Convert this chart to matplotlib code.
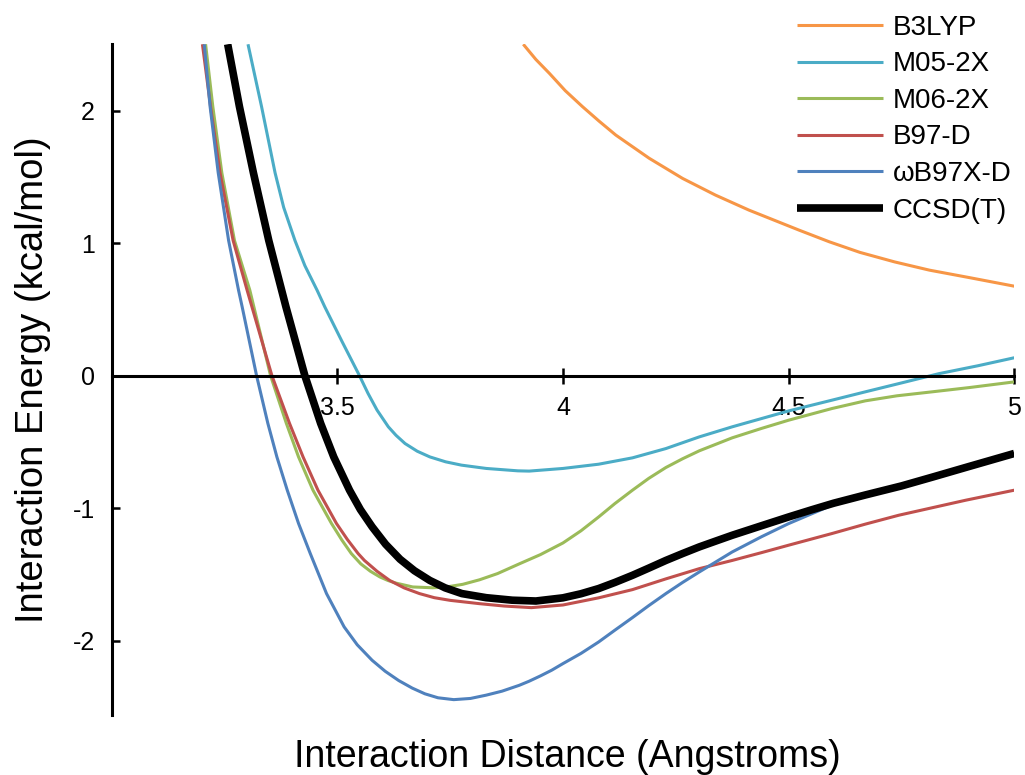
import matplotlib
matplotlib.use('Agg')
import matplotlib.pyplot as plt

plt.rcParams['font.family'] = ['Liberation Sans', 'DejaVu Sans']
plt.rcParams['axes.unicode_minus'] = False

# interaction energy curves (kcal/mol) vs distance (Angstroms)
x_b3lyp = [3.912, 3.94, 3.970, 4.005, 4.043, 4.08, 4.117, 4.191, 4.265, 4.338, 4.412,
           4.523, 4.59, 4.658, 4.735, 4.812, 4.9, 5.0]
y_b3lyp = [2.5, 2.385, 2.28, 2.15, 2.03, 1.92, 1.815, 1.64, 1.488, 1.362, 1.249,
           1.098, 1.01, 0.93, 0.858, 0.796, 0.74, 0.675]

x_m052x = [3.302, 3.332, 3.362, 3.381, 3.406, 3.428, 3.455, 3.472, 3.51, 3.549, 3.568,
           3.588, 3.613, 3.63, 3.650, 3.677, 3.705, 3.74, 3.775, 3.830, 3.900, 3.925,
           4.0, 4.079, 4.154, 4.228, 4.302, 4.375, 4.5, 4.596, 4.670, 4.75, 4.833,
           4.92, 5.0]
y_m052x = [2.5, 2.03, 1.53, 1.27, 1.02, 0.83, 0.645, 0.52, 0.26, 0.0, -0.134,
           -0.26, -0.386, -0.45, -0.512, -0.57, -0.613, -0.65, -0.675, -0.70, -0.718, -0.72,
           -0.70, -0.668, -0.62, -0.55, -0.462, -0.386, -0.266, -0.185, -0.122, -0.055, 0.015,
           0.075, 0.135]

x_m062x = [3.208, 3.224, 3.244, 3.272, 3.306, 3.352, 3.387, 3.414, 3.446, 3.487, 3.51,
           3.531, 3.552, 3.573, 3.594, 3.612, 3.63, 3.667, 3.711, 3.74, 3.778, 3.815,
           3.855, 3.903, 3.95, 4.0, 4.04, 4.079, 4.115, 4.154, 4.19, 4.228, 4.265,
           4.302, 4.375, 4.44, 4.5, 4.596, 4.67, 4.74, 4.818, 4.9, 5.0]
y_m062x = [2.5, 2.03, 1.53, 1.02, 0.645, 0.0, -0.36, -0.613, -0.864, -1.115, -1.24,
           -1.342, -1.42, -1.475, -1.518, -1.545, -1.565, -1.594, -1.60, -1.595, -1.574, -1.54,
           -1.493, -1.42, -1.35, -1.262, -1.17, -1.066, -0.965, -0.864, -0.775, -0.693, -0.627,
           -0.567, -0.469, -0.398, -0.336, -0.248, -0.19, -0.152, -0.122, -0.09, -0.047]

x_b97d = [3.201, 3.219, 3.240, 3.269, 3.300, 3.355, 3.394, 3.424, 3.457, 3.498, 3.522,
          3.546, 3.560, 3.588, 3.616, 3.648, 3.682, 3.715, 3.75, 3.815, 3.87, 3.93,
          4.0, 4.079, 4.154, 4.228, 4.302, 4.375, 4.44, 4.5, 4.596, 4.67, 4.744,
          4.82, 4.892, 5.0]
y_b97d = [2.5, 2.03, 1.53, 1.02, 0.645, 0.0, -0.36, -0.613, -0.864, -1.115, -1.235,
          -1.342, -1.394, -1.476, -1.545, -1.601, -1.644, -1.675, -1.695, -1.72, -1.738, -1.75,
          -1.73, -1.676, -1.614, -1.533, -1.456, -1.394, -1.335, -1.279, -1.191, -1.12, -1.053,
          -0.995, -0.94, -0.864]

x_wb97xd = [3.205, 3.218, 3.236, 3.259, 3.281, 3.289, 3.321, 3.346, 3.366, 3.389, 3.414,
            3.440, 3.476, 3.515, 3.544, 3.577, 3.606, 3.636, 3.666, 3.694, 3.723, 3.758,
            3.795, 3.830, 3.865, 3.903, 3.925, 3.95, 3.975, 4.0, 4.04, 4.079, 4.115,
            4.154, 4.19, 4.228, 4.265, 4.302, 4.375, 4.44, 4.5, 4.596, 4.67, 4.75,
            4.82, 4.9, 5.0]
y_wb97xd = [2.5, 2.03, 1.53, 1.02, 0.645, 0.52, 0.0, -0.36, -0.613, -0.864, -1.115,
            -1.342, -1.644, -1.895, -2.03, -2.147, -2.23, -2.30, -2.357, -2.40, -2.43, -2.444,
            -2.435, -2.41, -2.38, -2.336, -2.305, -2.265, -2.222, -2.172, -2.095, -2.009, -1.92,
            -1.825, -1.735, -1.644, -1.56, -1.481, -1.33, -1.215, -1.116, -0.977, -0.889, -0.83,
            -0.77, -0.69, -0.60]

x_ccsdt = [3.257, 3.283, 3.314, 3.348, 3.386, 3.428, 3.463, 3.492, 3.527, 3.551, 3.577,
           3.607, 3.639, 3.671, 3.705, 3.739, 3.776, 3.83, 3.888, 3.94, 4.0, 4.04,
           4.079, 4.115, 4.154, 4.19, 4.228, 4.265, 4.302, 4.34, 4.375, 4.44, 4.5,
           4.55, 4.6, 4.67, 4.75, 4.82, 4.9, 5.0]
y_ccsdt = [2.5, 2.03, 1.53, 1.02, 0.52, 0.0, -0.36, -0.613, -0.864, -1.01, -1.14,
           -1.272, -1.385, -1.472, -1.545, -1.601, -1.644, -1.675, -1.694, -1.70, -1.676, -1.645,
           -1.606, -1.56, -1.506, -1.452, -1.394, -1.342, -1.292, -1.246, -1.204, -1.132, -1.066,
           -1.013, -0.962, -0.90, -0.832, -0.764, -0.685, -0.587]

xticks = [3.5, 4, 4.5, 5]
xtick_labels = ['3.5', '4', '4.5', '5']
yticks = [-2, -1, 0, 1, 2]
ytick_labels = ['-2', '-1', '0', '1', '2']

fig = plt.figure(figsize=(10.25, 7.75), dpi=100)
ax = fig.add_axes([0.109, 0.0774, 0.8805, 0.8655])

lw = 2.2
style = dict(solid_joinstyle='round', solid_capstyle='butt')
ax.plot(x_b3lyp, y_b3lyp, color='#F79646', lw=lw, label='B3LYP', **style)
ax.plot(x_m052x, y_m052x, color='#4BACC6', lw=lw, label='M05-2X', **style)
ax.plot(x_m062x, y_m062x, color='#9BBB59', lw=lw, label='M06-2X', **style)
ax.plot(x_b97d, y_b97d, color='#C0504D', lw=lw, label='B97-D', **style)
ax.plot(x_wb97xd, y_wb97xd, color='#4F81BD', lw=lw, label='\u03c9B97X-D', **style)
ax.plot(x_ccsdt, y_ccsdt, color='black', lw=5.5, label='CCSD(T)', **style)

ax.set_xlim(3.0, 5.0)
ax.set_ylim(-2.56, 2.5)

ax.spines['top'].set_visible(False)
ax.spines['right'].set_visible(False)
ax.spines['bottom'].set_position(('data', 0))
ax.spines['left'].set_linewidth(2.2)
ax.spines['bottom'].set_linewidth(2.2)

ax.set_xticks(xticks)
ax.set_xticklabels(xtick_labels)
ax.set_yticks(yticks)
ax.set_yticklabels(ytick_labels)
ax.tick_params(axis='x', direction='inout', length=12, width=1.8, pad=9, labelsize=18)
ax.tick_params(axis='y', direction='in', length=6, width=1.8, pad=12, labelsize=18)

ax.set_xlabel('Interaction Distance (Angstroms)', fontsize=27)
ax.set_ylabel('Interaction Energy (kcal/mol)', fontsize=27.5)
ax.xaxis.set_label_coords(0.505, -0.036)
ax.yaxis.set_label_coords(-0.067, 0.5)

ax.legend(loc='upper left', bbox_to_anchor=(0.7776, 0.981), bbox_transform=fig.transFigure,
          frameon=False, fontsize=20, handlelength=3.09, handletextpad=0.36,
          labelspacing=0.38, borderpad=0, borderaxespad=0)

fig.savefig('out.png', dpi=100, facecolor='white')
